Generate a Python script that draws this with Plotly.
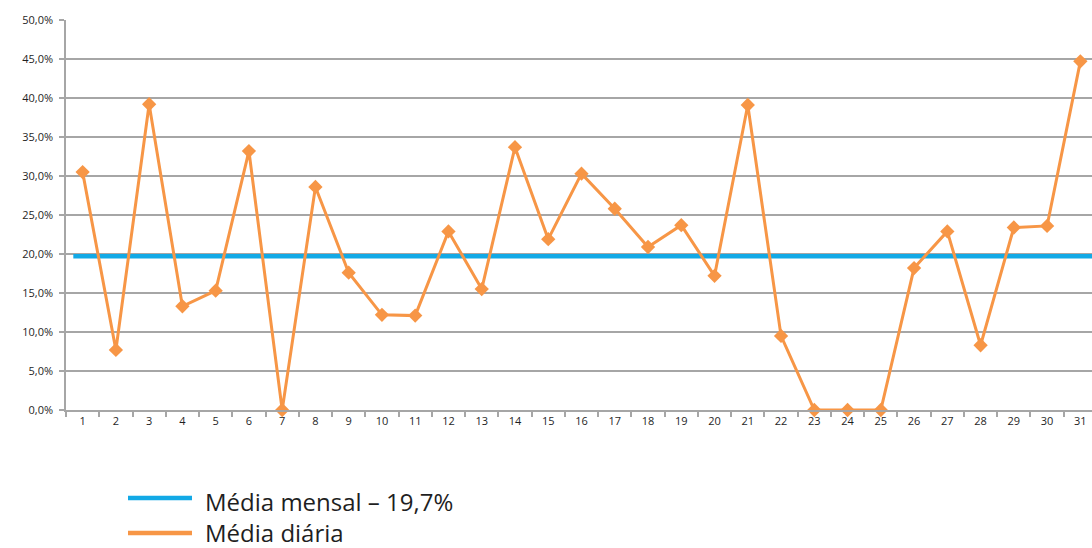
import plotly.graph_objects as go

# Dias do mês e média diária (fração)
dias = list(range(1, 32))
media_diaria = [
    0.305, 0.077, 0.392, 0.133, 0.153, 0.332, 0.000, 0.286, 0.176, 0.122,
    0.121, 0.229, 0.155, 0.337, 0.219, 0.303, 0.258, 0.209, 0.237, 0.172,
    0.391, 0.095, 0.000, 0.000, 0.000, 0.182, 0.229, 0.083, 0.234, 0.236,
    0.447,
]

# Média mensal (linha horizontal)
media_mensal = 0.197
mensal_x = [0.72, 31.6]

y_ticks = [i * 0.05 for i in range(11)]

ORANGE = "#F79646"
BLUE = "#12A9E6"
GRID = "#A6A6A6"
TXT = "#1F1F1F"

fig = go.Figure()

fig.add_trace(go.Scatter(
    x=mensal_x, y=[media_mensal] * len(mensal_x),
    mode="lines", line=dict(color=BLUE, width=4.5),
    name="Média mensal – 19,7%", showlegend=False, cliponaxis=True,
))

fig.add_trace(go.Scatter(
    x=dias, y=media_diaria,
    mode="lines+markers",
    line=dict(color=ORANGE, width=3),
    marker=dict(symbol="diamond", size=11, color=ORANGE),
    name="Média diária", showlegend=False, cliponaxis=False,
))

# Legenda desenhada à mão (linha longa sem marcadores)
legend_items = [("Média mensal – 19,7%", BLUE), ("Média diária", ORANGE)]
legend_line_px = [498, 533]
legend_text_px = [501, 532]
plot_left, plot_w, plot_top, plot_h = 66, 1026, 20, 390


def to_paper_y(py):
    return (plot_top + plot_h - py) / plot_h


shapes, annotations = [], []
for (label, color), ly, ty in zip(legend_items, legend_line_px, legend_text_px):
    shapes.append(dict(
        type="line", xref="paper", yref="paper",
        x0=(128 - plot_left) / plot_w, x1=(192 - plot_left) / plot_w,
        y0=to_paper_y(ly), y1=to_paper_y(ly), line=dict(color=color, width=4.5),
    ))
    annotations.append(dict(
        xref="paper", yref="paper", x=(203 - plot_left) / plot_w,
        y=to_paper_y(ty),
        xanchor="left", yanchor="middle", text=label, showarrow=False,
        font=dict(family="Open Sans", size=24, color=TXT),
    ))

fig.update_layout(
    width=1092, height=548,
    margin=dict(l=66, r=0, t=20, b=138),
    paper_bgcolor="white", plot_bgcolor="white",
    separators=",.",
    showlegend=False,
    shapes=shapes, annotations=annotations,
    xaxis=dict(
        range=[0.5, 31.35],
        tickmode="array", tickvals=dias, ticktext=[str(d) for d in dias],
        ticks="", showgrid=False, zeroline=False,
        showline=True, linecolor=GRID, linewidth=1.5,
        minor=dict(tickmode="linear", tick0=0.5, dtick=1, ticks="outside",
                   ticklen=5, tickcolor=GRID, tickwidth=1.5, showgrid=False),
        tickfont=dict(family="Open Sans", size=11, color=TXT),
    ),
    yaxis=dict(
        range=[0, 0.5],
        tickmode="array", tickvals=y_ticks, tickformat=".1%",
        ticks="outside", ticklen=5, tickcolor=GRID, tickwidth=1.5,
        ticklabelstandoff=4,
        showgrid=True, gridcolor=GRID, gridwidth=1.5, zeroline=False,
        showline=True, linecolor=GRID, linewidth=1.5,
        tickfont=dict(family="Open Sans", size=11, color=TXT),
    ),
)

fig.write_html("out.html")
